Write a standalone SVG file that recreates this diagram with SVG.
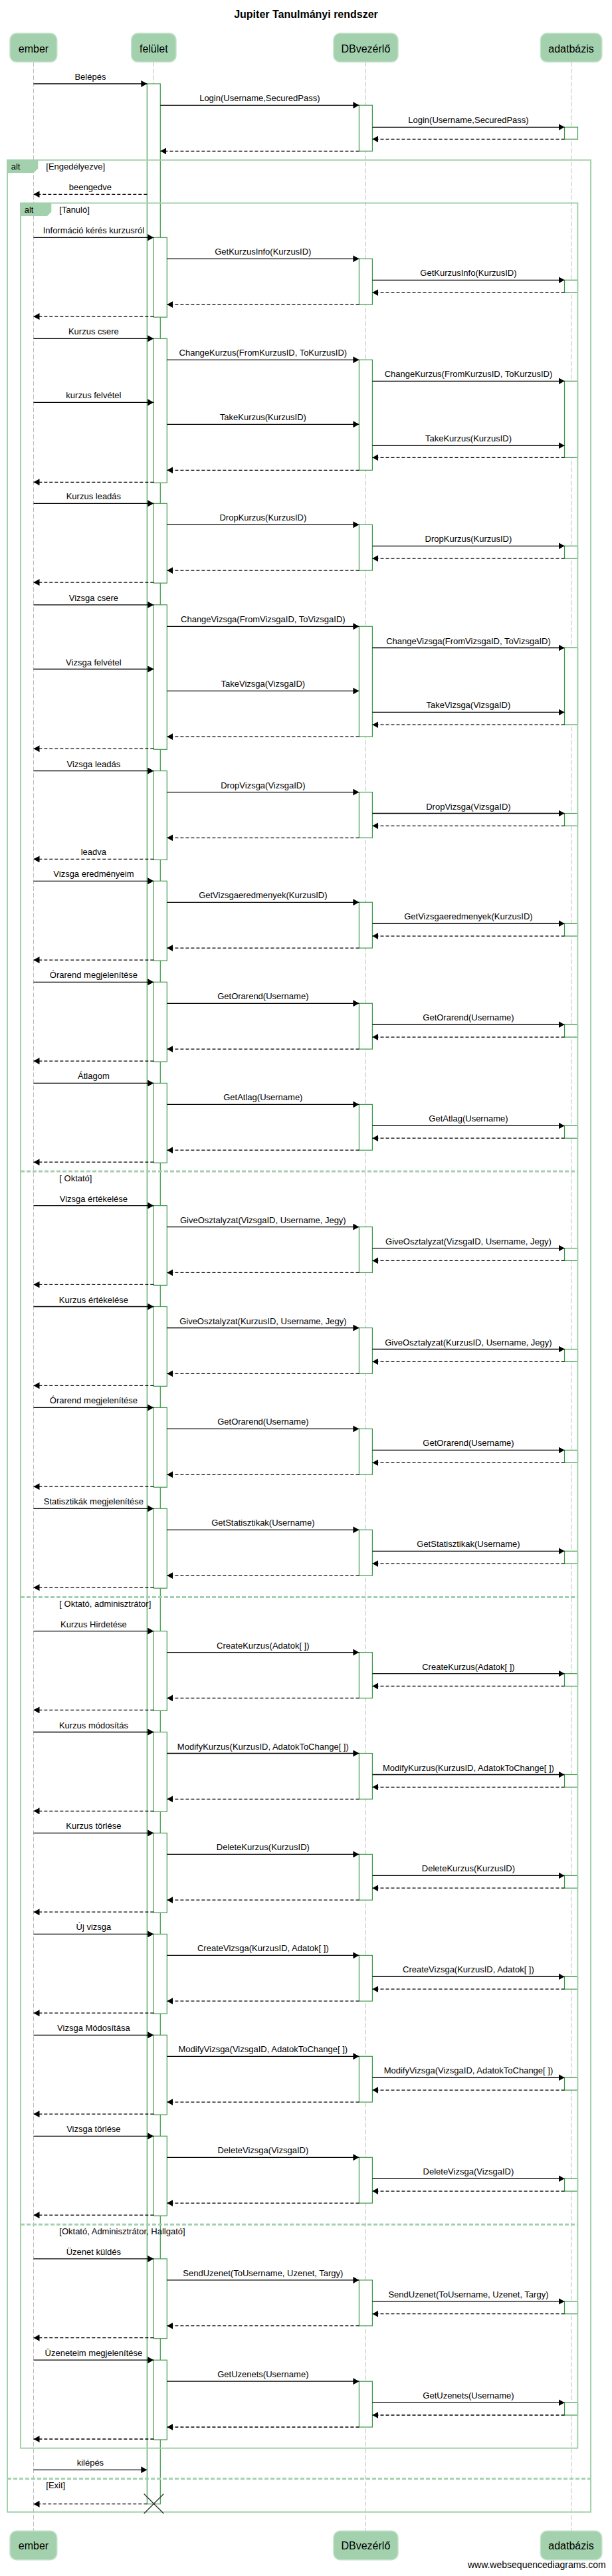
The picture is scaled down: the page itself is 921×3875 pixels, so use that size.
<svg xmlns="http://www.w3.org/2000/svg" width="921" height="3875" viewBox="0 0 921 3875">
<style>
text{font-family:"Liberation Sans",Arial,sans-serif;fill:#000}
.t{font-size:13px}
.c{text-anchor:middle}
.pt{font-size:16px;text-anchor:middle}
.ttl{font-size:16px;font-weight:bold;text-anchor:middle}
.box{fill:#a3d1ad;stroke:#c3e2ca;stroke-width:1.5}
.life{stroke:#bdbdbd;stroke-width:1;stroke-dasharray:7 3;fill:none}
.act{fill:#fff;stroke:#3d9b4b;stroke-width:1.2}
.m{stroke:#000;stroke-width:1.3;marker-end:url(#ah)}
.r{stroke:#000;stroke-width:1.3;stroke-dasharray:5 3;marker-end:url(#ah)}
.fr{fill:none;stroke:#a3d1ad;stroke-width:2}
.tab{fill:#a3d1ad}
.sep{stroke:#a3d1ad;stroke-width:3;stroke-dasharray:6 3}
.x{stroke:#333;stroke-width:1.3}
</style>
<defs>
<marker id="ah" viewBox="0 0 10 10" refX="10" refY="5" markerWidth="9" markerHeight="10" markerUnits="userSpaceOnUse" orient="auto" preserveAspectRatio="none"><path d="M0,0 L10,5 L0,10 z" fill="#000" stroke="none"/></marker>
</defs>
<rect width="921" height="3875" fill="#fff"/>
<text class="ttl" x="460.5" y="27">Jupiter Tanulmányi rendszer</text>

<g id="lifelines">
<line class="life" x1="50.5" y1="93.3" x2="50.5" y2="3807.3"/>
<line class="life" x1="231.3" y1="93.3" x2="231.3" y2="3766.5"/>
<line class="life" x1="550.4" y1="93.3" x2="550.4" y2="3807.3"/>
<line class="life" x1="859.5" y1="93.3" x2="859.5" y2="3807.3"/>
</g>

<g id="p-ember">
<rect class="box" x="15" y="50" width="70.7" height="43.3" rx="10"/>
<text class="pt" x="50.5" y="79">ember</text>
<rect class="box" x="15" y="3807.3" width="70.7" height="43.4" rx="10"/>
<text class="pt" x="50.5" y="3835">ember</text>
</g>
<g id="p-felulet">
<rect class="box" x="197.7" y="50" width="67.3" height="43.3" rx="10"/>
<text class="pt" x="231.3" y="79">felület</text>
</g>
<g id="p-dbvezerlo">
<rect class="box" x="502" y="50" width="97" height="43.3" rx="10"/>
<text class="pt" x="550.4" y="79">DBvezérlő</text>
<rect class="box" x="502" y="3807.3" width="97" height="43.4" rx="10"/>
<text class="pt" x="550.4" y="3835">DBvezérlő</text>
</g>
<g id="p-adatbazis">
<rect class="box" x="813.4" y="50" width="92.4" height="43.3" rx="10"/>
<text class="pt" x="859.5" y="79">adatbázis</text>
<rect class="box" x="813.4" y="3807.3" width="92.4" height="43.4" rx="10"/>
<text class="pt" x="859.5" y="3835">adatbázis</text>
</g>

<g id="activations">
<rect class="act" x="221.3" y="126" width="20" height="3640.7"/>
<rect class="act" x="540.4" y="158.3" width="20" height="69"/>
<rect class="act" x="849.5" y="191.3" width="20" height="18"/>
<!-- b1 -->
<rect class="act" x="231.3" y="357.3" width="20" height="119.8"/>
<rect class="act" x="540.4" y="389.3" width="20" height="68.8"/>
<rect class="act" x="849.5" y="421.3" width="20" height="18.8"/>
<!-- b2 -->
<rect class="act" x="231.3" y="509.3" width="20" height="217"/>
<rect class="act" x="540.4" y="541.3" width="20" height="166"/>
<rect class="act" x="849.5" y="573.3" width="20" height="115"/>
<!-- b3 -->
<rect class="act" x="231.3" y="757.3" width="20" height="119.8"/>
<rect class="act" x="540.4" y="789.3" width="20" height="68.8"/>
<rect class="act" x="849.5" y="821.3" width="20" height="18.8"/>
<!-- b4 -->
<rect class="act" x="231.3" y="909.8" width="20" height="217.5"/>
<rect class="act" x="540.4" y="942.3" width="20" height="165.9"/>
<rect class="act" x="849.5" y="974.5" width="20" height="115.7"/>
<!-- b5 -->
<rect class="act" x="231.3" y="1159.6" width="20" height="133.8"/>
<rect class="act" x="540.4" y="1191.6" width="20" height="68.7"/>
<rect class="act" x="849.5" y="1223.5" width="20" height="18.8"/>
<!-- b6 -->
<rect class="act" x="231.3" y="1325.3" width="20" height="119.8"/>
<rect class="act" x="540.4" y="1357.3" width="20" height="68.8"/>
<rect class="act" x="849.5" y="1389.3" width="20" height="18.8"/>
<!-- b7 -->
<rect class="act" x="231.3" y="1477.3" width="20" height="119.8"/>
<rect class="act" x="540.4" y="1509.3" width="20" height="68.8"/>
<rect class="act" x="849.5" y="1541.3" width="20" height="18.8"/>
<!-- b8 -->
<rect class="act" x="231.3" y="1629.4" width="20" height="119.8"/>
<rect class="act" x="540.4" y="1661.4" width="20" height="68.8"/>
<rect class="act" x="849.5" y="1693.4" width="20" height="18.8"/>
<!-- b9 -->
<rect class="act" x="231.3" y="1813.6" width="20" height="119.8"/>
<rect class="act" x="540.4" y="1845.6" width="20" height="68.8"/>
<rect class="act" x="849.5" y="1877.6" width="20" height="18.8"/>
<!-- b10 -->
<rect class="act" x="231.3" y="1965.5" width="20" height="119.8"/>
<rect class="act" x="540.4" y="1997.5" width="20" height="68.8"/>
<rect class="act" x="849.5" y="2029.5" width="20" height="18.8"/>
<!-- b11 -->
<rect class="act" x="231.3" y="2117.4" width="20" height="119.8"/>
<rect class="act" x="540.4" y="2149.4" width="20" height="68.8"/>
<rect class="act" x="849.5" y="2181.4" width="20" height="18.8"/>
<!-- b12 -->
<rect class="act" x="231.3" y="2269.3" width="20" height="119.8"/>
<rect class="act" x="540.4" y="2301.3" width="20" height="68.8"/>
<rect class="act" x="849.5" y="2333.3" width="20" height="18.8"/>
<!-- b13 -->
<rect class="act" x="231.3" y="2453.6" width="20" height="119.8"/>
<rect class="act" x="540.4" y="2485.6" width="20" height="68.8"/>
<rect class="act" x="849.5" y="2517.6" width="20" height="18.8"/>
<!-- b14 -->
<rect class="act" x="231.3" y="2605.5" width="20" height="119.8"/>
<rect class="act" x="540.4" y="2637.5" width="20" height="68.8"/>
<rect class="act" x="849.5" y="2669.5" width="20" height="18.8"/>
<!-- b15 -->
<rect class="act" x="231.3" y="2757.4" width="20" height="119.8"/>
<rect class="act" x="540.4" y="2789.4" width="20" height="68.8"/>
<rect class="act" x="849.5" y="2821.4" width="20" height="18.8"/>
<!-- b16 -->
<rect class="act" x="231.3" y="2909.4" width="20" height="119.8"/>
<rect class="act" x="540.4" y="2941.4" width="20" height="68.8"/>
<rect class="act" x="849.5" y="2973.4" width="20" height="18.8"/>
<!-- b17 -->
<rect class="act" x="231.3" y="3061.3" width="20" height="119.8"/>
<rect class="act" x="540.4" y="3093.3" width="20" height="68.8"/>
<rect class="act" x="849.5" y="3125.3" width="20" height="18.8"/>
<!-- b18 -->
<rect class="act" x="231.3" y="3213.3" width="20" height="119.8"/>
<rect class="act" x="540.4" y="3245.3" width="20" height="68.8"/>
<rect class="act" x="849.5" y="3277.3" width="20" height="18.8"/>
<!-- b19 -->
<rect class="act" x="231.3" y="3397.9" width="20" height="119.8"/>
<rect class="act" x="540.4" y="3429.9" width="20" height="68.8"/>
<rect class="act" x="849.5" y="3461.9" width="20" height="18.8"/>
<!-- b20 -->
<rect class="act" x="231.3" y="3550.2" width="20" height="119.8"/>
<rect class="act" x="540.4" y="3582.2" width="20" height="68.8"/>
<rect class="act" x="849.5" y="3614.2" width="20" height="18.8"/>
</g>

<g id="frames">
<rect class="fr" x="11" y="240.7" width="878" height="3538"/>
<polygon class="tab" points="11,240.7 57.3,240.7 57.3,253.3 50.7,260 11,260"/>
<text class="t" x="16.7" y="255">alt</text>
<text class="t" x="69.3" y="255">[Engedélyezve]</text>
<rect class="fr" x="31" y="305.5" width="838.3" height="3377.2"/>
<polygon class="tab" points="31,305.5 77.3,305.5 77.3,318.5 71,325 31,325"/>
<text class="t" x="36.7" y="320">alt</text>
<text class="t" x="89.3" y="320">[Tanuló]</text>
<line class="sep" x1="31" y1="1762" x2="869.3" y2="1762"/>
<text class="t" x="89.3" y="1776.7">[ Oktató]</text>
<line class="sep" x1="31" y1="2402.5" x2="869.3" y2="2402.5"/>
<text class="t" x="89.3" y="2417.2">[ Oktató, adminisztrátor]</text>
<line class="sep" x1="31" y1="3346.2" x2="869.3" y2="3346.2"/>
<text class="t" x="89.3" y="3360.9">[Oktató, Adminisztrátor, Hallgató]</text>
<line class="sep" x1="11" y1="3728.7" x2="889" y2="3728.7"/>
<text class="t" x="69.3" y="3743.3">[Exit]</text>
</g>

<g id="connectors">
<line class="m" x1="50.5" y1="126" x2="221.3" y2="126"/>
<text class="t c" x="135.9" y="120">Belépés</text>
<line class="m" x1="241.3" y1="158.3" x2="540.4" y2="158.3"/>
<text class="t c" x="390.85" y="152.3">Login(Username,SecuredPass)</text>
<line class="m" x1="560.4" y1="191.3" x2="849.5" y2="191.3"/>
<text class="t c" x="704.95" y="185.3">Login(Username,SecuredPass)</text>
<line class="r" x1="849.5" y1="209.3" x2="560.4" y2="209.3"/>
<line class="r" x1="540.4" y1="227.3" x2="241.3" y2="227.3"/>
<line class="r" x1="221.3" y1="292.3" x2="50.5" y2="292.3"/>
<text class="t c" x="135.9" y="286.3">beengedve</text>

<!-- b1 -->
<line class="m" x1="50.5" y1="357.3" x2="231.3" y2="357.3"/>
<text class="t c" x="140.9" y="351.3">Információ kérés kurzusról</text>
<line class="m" x1="251.3" y1="389.3" x2="540.4" y2="389.3"/>
<text class="t c" x="395.85" y="383.3">GetKurzusInfo(KurzusID)</text>
<line class="m" x1="560.4" y1="421.3" x2="849.5" y2="421.3"/>
<text class="t c" x="704.95" y="415.3">GetKurzusInfo(KurzusID)</text>
<line class="r" x1="849.5" y1="440.1" x2="560.4" y2="440.1"/>
<line class="r" x1="540.4" y1="458.1" x2="251.3" y2="458.1"/>
<line class="r" x1="231.3" y1="476.1" x2="50.5" y2="476.1"/>

<!-- b2 -->
<line class="m" x1="50.5" y1="509.3" x2="231.3" y2="509.3"/>
<text class="t c" x="140.9" y="503.3">Kurzus csere</text>
<line class="m" x1="251.3" y1="541.3" x2="540.4" y2="541.3"/>
<text class="t c" x="395.85" y="535.3">ChangeKurzus(FromKurzusID, ToKurzusID)</text>
<line class="m" x1="560.4" y1="573.3" x2="849.5" y2="573.3"/>
<text class="t c" x="704.95" y="567.3">ChangeKurzus(FromKurzusID, ToKurzusID)</text>
<line class="m" x1="50.5" y1="605.3" x2="231.3" y2="605.3"/>
<text class="t c" x="140.9" y="599.3">kurzus felvétel</text>
<line class="m" x1="251.3" y1="638.3" x2="540.4" y2="638.3"/>
<text class="t c" x="395.85" y="632.3">TakeKurzus(KurzusID)</text>
<line class="m" x1="560.4" y1="670.3" x2="849.5" y2="670.3"/>
<text class="t c" x="704.95" y="664.3">TakeKurzus(KurzusID)</text>
<line class="r" x1="849.5" y1="688.3" x2="560.4" y2="688.3"/>
<line class="r" x1="540.4" y1="707.3" x2="251.3" y2="707.3"/>
<line class="r" x1="231.3" y1="725.3" x2="50.5" y2="725.3"/>

<!-- b3 -->
<line class="m" x1="50.5" y1="757.3" x2="231.3" y2="757.3"/>
<text class="t c" x="140.9" y="751.3">Kurzus leadás</text>
<line class="m" x1="251.3" y1="789.3" x2="540.4" y2="789.3"/>
<text class="t c" x="395.85" y="783.3">DropKurzus(KurzusID)</text>
<line class="m" x1="560.4" y1="821.3" x2="849.5" y2="821.3"/>
<text class="t c" x="704.95" y="815.3">DropKurzus(KurzusID)</text>
<line class="r" x1="849.5" y1="840.1" x2="560.4" y2="840.1"/>
<line class="r" x1="540.4" y1="858.1" x2="251.3" y2="858.1"/>
<line class="r" x1="231.3" y1="876.1" x2="50.5" y2="876.1"/>

<!-- b4 -->
<line class="m" x1="50.5" y1="909.8" x2="231.3" y2="909.8"/>
<text class="t c" x="140.9" y="903.8">Vizsga csere</text>
<line class="m" x1="251.3" y1="942.3" x2="540.4" y2="942.3"/>
<text class="t c" x="395.85" y="936.3">ChangeVizsga(FromVizsgaID, ToVizsgaID)</text>
<line class="m" x1="560.4" y1="974.5" x2="849.5" y2="974.5"/>
<text class="t c" x="704.95" y="968.5">ChangeVizsga(FromVizsgaID, ToVizsgaID)</text>
<line class="m" x1="50.5" y1="1006.5" x2="231.3" y2="1006.5"/>
<text class="t c" x="140.9" y="1000.5">Vizsga felvétel</text>
<line class="m" x1="251.3" y1="1039.4" x2="540.4" y2="1039.4"/>
<text class="t c" x="395.85" y="1033.4">TakeVizsga(VizsgaID)</text>
<line class="m" x1="560.4" y1="1071.4" x2="849.5" y2="1071.4"/>
<text class="t c" x="704.95" y="1065.4">TakeVizsga(VizsgaID)</text>
<line class="r" x1="849.5" y1="1090.2" x2="560.4" y2="1090.2"/>
<line class="r" x1="540.4" y1="1108.2" x2="251.3" y2="1108.2"/>
<line class="r" x1="231.3" y1="1126.3" x2="50.5" y2="1126.3"/>

<!-- b5 -->
<line class="m" x1="50.5" y1="1159.6" x2="231.3" y2="1159.6"/>
<text class="t c" x="140.9" y="1153.6">Vizsga leadás</text>
<line class="m" x1="251.3" y1="1191.6" x2="540.4" y2="1191.6"/>
<text class="t c" x="395.85" y="1185.6">DropVizsga(VizsgaID)</text>
<line class="m" x1="560.4" y1="1223.5" x2="849.5" y2="1223.5"/>
<text class="t c" x="704.95" y="1217.5">DropVizsga(VizsgaID)</text>
<line class="r" x1="849.5" y1="1242.3" x2="560.4" y2="1242.3"/>
<line class="r" x1="540.4" y1="1260.3" x2="251.3" y2="1260.3"/>
<line class="r" x1="231.3" y1="1292.4" x2="50.5" y2="1292.4"/>
<text class="t c" x="140.9" y="1286.4">leadva</text>

<!-- b6 -->
<line class="m" x1="50.5" y1="1325.3" x2="231.3" y2="1325.3"/>
<text class="t c" x="140.9" y="1319.3">Vizsga eredményeim</text>
<line class="m" x1="251.3" y1="1357.3" x2="540.4" y2="1357.3"/>
<text class="t c" x="395.85" y="1351.3">GetVizsgaeredmenyek(KurzusID)</text>
<line class="m" x1="560.4" y1="1389.3" x2="849.5" y2="1389.3"/>
<text class="t c" x="704.95" y="1383.3">GetVizsgaeredmenyek(KurzusID)</text>
<line class="r" x1="849.5" y1="1408.1" x2="560.4" y2="1408.1"/>
<line class="r" x1="540.4" y1="1426.1" x2="251.3" y2="1426.1"/>
<line class="r" x1="231.3" y1="1444.1" x2="50.5" y2="1444.1"/>

<!-- b7 -->
<line class="m" x1="50.5" y1="1477.3" x2="231.3" y2="1477.3"/>
<text class="t c" x="140.9" y="1471.3">Órarend megjelenítése</text>
<line class="m" x1="251.3" y1="1509.3" x2="540.4" y2="1509.3"/>
<text class="t c" x="395.85" y="1503.3">GetOrarend(Username)</text>
<line class="m" x1="560.4" y1="1541.3" x2="849.5" y2="1541.3"/>
<text class="t c" x="704.95" y="1535.3">GetOrarend(Username)</text>
<line class="r" x1="849.5" y1="1560.1" x2="560.4" y2="1560.1"/>
<line class="r" x1="540.4" y1="1578.1" x2="251.3" y2="1578.1"/>
<line class="r" x1="231.3" y1="1596.1" x2="50.5" y2="1596.1"/>

<!-- b8 -->
<line class="m" x1="50.5" y1="1629.4" x2="231.3" y2="1629.4"/>
<text class="t c" x="140.9" y="1623.4">Átlagom</text>
<line class="m" x1="251.3" y1="1661.4" x2="540.4" y2="1661.4"/>
<text class="t c" x="395.85" y="1655.4">GetAtlag(Username)</text>
<line class="m" x1="560.4" y1="1693.4" x2="849.5" y2="1693.4"/>
<text class="t c" x="704.95" y="1687.4">GetAtlag(Username)</text>
<line class="r" x1="849.5" y1="1712.2" x2="560.4" y2="1712.2"/>
<line class="r" x1="540.4" y1="1730.2" x2="251.3" y2="1730.2"/>
<line class="r" x1="231.3" y1="1748.2" x2="50.5" y2="1748.2"/>

<!-- b9 -->
<line class="m" x1="50.5" y1="1813.6" x2="231.3" y2="1813.6"/>
<text class="t c" x="140.9" y="1807.6">Vizsga értékelése</text>
<line class="m" x1="251.3" y1="1845.6" x2="540.4" y2="1845.6"/>
<text class="t c" x="395.85" y="1839.6">GiveOsztalyzat(VizsgaID, Username, Jegy)</text>
<line class="m" x1="560.4" y1="1877.6" x2="849.5" y2="1877.6"/>
<text class="t c" x="704.95" y="1871.6">GiveOsztalyzat(VizsgaID, Username, Jegy)</text>
<line class="r" x1="849.5" y1="1896.4" x2="560.4" y2="1896.4"/>
<line class="r" x1="540.4" y1="1914.4" x2="251.3" y2="1914.4"/>
<line class="r" x1="231.3" y1="1932.4" x2="50.5" y2="1932.4"/>

<!-- b10 -->
<line class="m" x1="50.5" y1="1965.5" x2="231.3" y2="1965.5"/>
<text class="t c" x="140.9" y="1959.5">Kurzus értékelése</text>
<line class="m" x1="251.3" y1="1997.5" x2="540.4" y2="1997.5"/>
<text class="t c" x="395.85" y="1991.5">GiveOsztalyzat(KurzusID, Username, Jegy)</text>
<line class="m" x1="560.4" y1="2029.5" x2="849.5" y2="2029.5"/>
<text class="t c" x="704.95" y="2023.5">GiveOsztalyzat(KurzusID, Username, Jegy)</text>
<line class="r" x1="849.5" y1="2048.3" x2="560.4" y2="2048.3"/>
<line class="r" x1="540.4" y1="2066.3" x2="251.3" y2="2066.3"/>
<line class="r" x1="231.3" y1="2084.3" x2="50.5" y2="2084.3"/>

<!-- b11 -->
<line class="m" x1="50.5" y1="2117.4" x2="231.3" y2="2117.4"/>
<text class="t c" x="140.9" y="2111.4">Órarend megjelenítése</text>
<line class="m" x1="251.3" y1="2149.4" x2="540.4" y2="2149.4"/>
<text class="t c" x="395.85" y="2143.4">GetOrarend(Username)</text>
<line class="m" x1="560.4" y1="2181.4" x2="849.5" y2="2181.4"/>
<text class="t c" x="704.95" y="2175.4">GetOrarend(Username)</text>
<line class="r" x1="849.5" y1="2200.2" x2="560.4" y2="2200.2"/>
<line class="r" x1="540.4" y1="2218.2" x2="251.3" y2="2218.2"/>
<line class="r" x1="231.3" y1="2236.2" x2="50.5" y2="2236.2"/>

<!-- b12 -->
<line class="m" x1="50.5" y1="2269.3" x2="231.3" y2="2269.3"/>
<text class="t c" x="140.9" y="2263.3">Statisztikák megjelenítése</text>
<line class="m" x1="251.3" y1="2301.3" x2="540.4" y2="2301.3"/>
<text class="t c" x="395.85" y="2295.3">GetStatisztikak(Username)</text>
<line class="m" x1="560.4" y1="2333.3" x2="849.5" y2="2333.3"/>
<text class="t c" x="704.95" y="2327.3">GetStatisztikak(Username)</text>
<line class="r" x1="849.5" y1="2352.1" x2="560.4" y2="2352.1"/>
<line class="r" x1="540.4" y1="2370.1" x2="251.3" y2="2370.1"/>
<line class="r" x1="231.3" y1="2388.1" x2="50.5" y2="2388.1"/>

<!-- b13 -->
<line class="m" x1="50.5" y1="2453.6" x2="231.3" y2="2453.6"/>
<text class="t c" x="140.9" y="2447.6">Kurzus Hirdetése</text>
<line class="m" x1="251.3" y1="2485.6" x2="540.4" y2="2485.6"/>
<text class="t c" x="395.85" y="2479.6">CreateKurzus(Adatok[ ])</text>
<line class="m" x1="560.4" y1="2517.6" x2="849.5" y2="2517.6"/>
<text class="t c" x="704.95" y="2511.6">CreateKurzus(Adatok[ ])</text>
<line class="r" x1="849.5" y1="2536.4" x2="560.4" y2="2536.4"/>
<line class="r" x1="540.4" y1="2554.4" x2="251.3" y2="2554.4"/>
<line class="r" x1="231.3" y1="2572.4" x2="50.5" y2="2572.4"/>

<!-- b14 -->
<line class="m" x1="50.5" y1="2605.5" x2="231.3" y2="2605.5"/>
<text class="t c" x="140.9" y="2599.5">Kurzus módosítás</text>
<line class="m" x1="251.3" y1="2637.5" x2="540.4" y2="2637.5"/>
<text class="t c" x="395.85" y="2631.5">ModifyKurzus(KurzusID, AdatokToChange[ ])</text>
<line class="m" x1="560.4" y1="2669.5" x2="849.5" y2="2669.5"/>
<text class="t c" x="704.95" y="2663.5">ModifyKurzus(KurzusID, AdatokToChange[ ])</text>
<line class="r" x1="849.5" y1="2688.3" x2="560.4" y2="2688.3"/>
<line class="r" x1="540.4" y1="2706.3" x2="251.3" y2="2706.3"/>
<line class="r" x1="231.3" y1="2724.3" x2="50.5" y2="2724.3"/>

<!-- b15 -->
<line class="m" x1="50.5" y1="2757.4" x2="231.3" y2="2757.4"/>
<text class="t c" x="140.9" y="2751.4">Kurzus törlése</text>
<line class="m" x1="251.3" y1="2789.4" x2="540.4" y2="2789.4"/>
<text class="t c" x="395.85" y="2783.4">DeleteKurzus(KurzusID)</text>
<line class="m" x1="560.4" y1="2821.4" x2="849.5" y2="2821.4"/>
<text class="t c" x="704.95" y="2815.4">DeleteKurzus(KurzusID)</text>
<line class="r" x1="849.5" y1="2840.2" x2="560.4" y2="2840.2"/>
<line class="r" x1="540.4" y1="2858.2" x2="251.3" y2="2858.2"/>
<line class="r" x1="231.3" y1="2876.2" x2="50.5" y2="2876.2"/>

<!-- b16 -->
<line class="m" x1="50.5" y1="2909.4" x2="231.3" y2="2909.4"/>
<text class="t c" x="140.9" y="2903.4">Új vizsga</text>
<line class="m" x1="251.3" y1="2941.4" x2="540.4" y2="2941.4"/>
<text class="t c" x="395.85" y="2935.4">CreateVizsga(KurzusID, Adatok[ ])</text>
<line class="m" x1="560.4" y1="2973.4" x2="849.5" y2="2973.4"/>
<text class="t c" x="704.95" y="2967.4">CreateVizsga(KurzusID, Adatok[ ])</text>
<line class="r" x1="849.5" y1="2992.2" x2="560.4" y2="2992.2"/>
<line class="r" x1="540.4" y1="3010.2" x2="251.3" y2="3010.2"/>
<line class="r" x1="231.3" y1="3028.2" x2="50.5" y2="3028.2"/>

<!-- b17 -->
<line class="m" x1="50.5" y1="3061.3" x2="231.3" y2="3061.3"/>
<text class="t c" x="140.9" y="3055.3">Vizsga Módosítása</text>
<line class="m" x1="251.3" y1="3093.3" x2="540.4" y2="3093.3"/>
<text class="t c" x="395.85" y="3087.3">ModifyVizsga(VizsgaID, AdatokToChange[ ])</text>
<line class="m" x1="560.4" y1="3125.3" x2="849.5" y2="3125.3"/>
<text class="t c" x="704.95" y="3119.3">ModifyVizsga(VizsgaID, AdatokToChange[ ])</text>
<line class="r" x1="849.5" y1="3144.1" x2="560.4" y2="3144.1"/>
<line class="r" x1="540.4" y1="3162.1" x2="251.3" y2="3162.1"/>
<line class="r" x1="231.3" y1="3180.1" x2="50.5" y2="3180.1"/>

<!-- b18 -->
<line class="m" x1="50.5" y1="3213.3" x2="231.3" y2="3213.3"/>
<text class="t c" x="140.9" y="3207.3">Vizsga törlése</text>
<line class="m" x1="251.3" y1="3245.3" x2="540.4" y2="3245.3"/>
<text class="t c" x="395.85" y="3239.3">DeleteVizsga(VizsgaID)</text>
<line class="m" x1="560.4" y1="3277.3" x2="849.5" y2="3277.3"/>
<text class="t c" x="704.95" y="3271.3">DeleteVizsga(VizsgaID)</text>
<line class="r" x1="849.5" y1="3296.1" x2="560.4" y2="3296.1"/>
<line class="r" x1="540.4" y1="3314.1" x2="251.3" y2="3314.1"/>
<line class="r" x1="231.3" y1="3332.1" x2="50.5" y2="3332.1"/>

<!-- b19 -->
<line class="m" x1="50.5" y1="3397.9" x2="231.3" y2="3397.9"/>
<text class="t c" x="140.9" y="3391.9">Üzenet küldés</text>
<line class="m" x1="251.3" y1="3429.9" x2="540.4" y2="3429.9"/>
<text class="t c" x="395.85" y="3423.9">SendUzenet(ToUsername, Uzenet, Targy)</text>
<line class="m" x1="560.4" y1="3461.9" x2="849.5" y2="3461.9"/>
<text class="t c" x="704.95" y="3455.9">SendUzenet(ToUsername, Uzenet, Targy)</text>
<line class="r" x1="849.5" y1="3480.7" x2="560.4" y2="3480.7"/>
<line class="r" x1="540.4" y1="3498.7" x2="251.3" y2="3498.7"/>
<line class="r" x1="231.3" y1="3516.7" x2="50.5" y2="3516.7"/>

<!-- b20 -->
<line class="m" x1="50.5" y1="3550.2" x2="231.3" y2="3550.2"/>
<text class="t c" x="140.9" y="3544.2">Üzeneteim megjelenítése</text>
<line class="m" x1="251.3" y1="3582.2" x2="540.4" y2="3582.2"/>
<text class="t c" x="395.85" y="3576.2">GetUzenets(Username)</text>
<line class="m" x1="560.4" y1="3614.2" x2="849.5" y2="3614.2"/>
<text class="t c" x="704.95" y="3608.2">GetUzenets(Username)</text>
<line class="r" x1="849.5" y1="3633" x2="560.4" y2="3633"/>
<line class="r" x1="540.4" y1="3651" x2="251.3" y2="3651"/>
<line class="r" x1="231.3" y1="3669" x2="50.5" y2="3669"/>

<!-- exit -->
<line class="m" x1="50.5" y1="3715.3" x2="221.3" y2="3715.3"/>
<text class="t c" x="135.9" y="3709.3">kilépés</text>
<line class="r" x1="221.3" y1="3766.7" x2="50.5" y2="3766.7"/>
</g>

<g id="destroy">
<line class="x" x1="216.7" y1="3751.5" x2="246.3" y2="3781"/>
<line class="x" x1="246.3" y1="3751.5" x2="216.7" y2="3781"/>
</g>

<text x="911.7" y="3863.3" font-size="14" text-anchor="end">www.websequencediagrams.com</text>
</svg>
